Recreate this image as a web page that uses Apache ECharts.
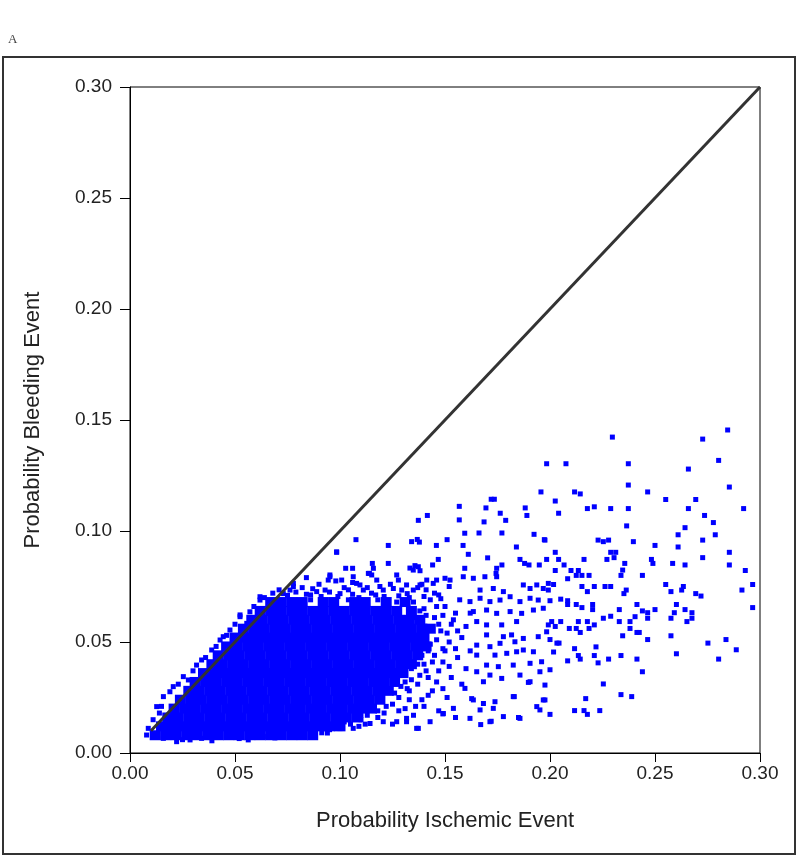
<!DOCTYPE html>
<html>
<head>
<meta charset="utf-8">
<script src="https://cdn.jsdelivr.net/npm/echarts@6/dist/echarts.min.js"></script>
<style>html,body{margin:0;padding:0;background:#fff;}#c{width:800px;height:856px;}</style>
</head>
<body>
<div id="c"></div>
<script>
const xTicks = [0, 0.05, 0.10, 0.15, 0.20, 0.25, 0.30];
const yTicks = [0, 0.05, 0.10, 0.15, 0.20, 0.25, 0.30];
const refLine = [[0.01, 0.01], [0.30, 0.30]];

// Dense core of overlapping points, read as rows: [y, [x ...]]
const denseCoreRows = [
  [0.008, [0.012,0.017,0.022,0.027,0.032,0.037,0.042,0.047,0.052,0.057,0.062,0.067,0.072,0.077,0.082,0.087]],
  [0.012, [0.015,0.020,0.025,0.030,0.035,0.040,0.045,0.050,0.055,0.060,0.065,0.070,0.075,0.080,0.085,0.090,0.095,0.100]],
  [0.016, [0.018,0.023,0.028,0.033,0.038,0.043,0.048,0.053,0.058,0.063,0.068,0.073,0.078,0.083,0.088,0.093,0.098,0.103,0.108]],
  [0.020, [0.021,0.026,0.031,0.036,0.041,0.046,0.051,0.056,0.061,0.066,0.071,0.076,0.081,0.086,0.091,0.096,0.101,0.106,0.111,0.115]],
  [0.024, [0.024,0.029,0.034,0.039,0.044,0.049,0.054,0.059,0.064,0.069,0.074,0.079,0.084,0.089,0.094,0.099,0.104,0.109,0.114,0.119]],
  [0.028, [0.028,0.033,0.038,0.043,0.048,0.053,0.058,0.063,0.068,0.073,0.078,0.083,0.088,0.093,0.098,0.103,0.108,0.113,0.118,0.123]],
  [0.032, [0.031,0.036,0.041,0.046,0.051,0.056,0.061,0.066,0.071,0.076,0.081,0.086,0.091,0.096,0.101,0.106,0.111,0.116,0.121,0.126]],
  [0.036, [0.035,0.040,0.045,0.050,0.055,0.060,0.065,0.070,0.075,0.080,0.085,0.090,0.095,0.100,0.105,0.110,0.115,0.120,0.125,0.130]],
  [0.040, [0.039,0.044,0.049,0.054,0.059,0.064,0.069,0.074,0.079,0.084,0.089,0.094,0.099,0.104,0.109,0.114,0.119,0.124,0.129,0.134]],
  [0.044, [0.042,0.047,0.052,0.057,0.062,0.067,0.072,0.077,0.082,0.087,0.092,0.097,0.102,0.107,0.112,0.117,0.122,0.127,0.132,0.137]],
  [0.048, [0.046,0.051,0.056,0.061,0.066,0.071,0.076,0.081,0.086,0.091,0.096,0.101,0.106,0.111,0.116,0.121,0.126,0.131,0.136,0.141]],
  [0.052, [0.050,0.055,0.060,0.065,0.070,0.075,0.080,0.085,0.090,0.095,0.100,0.105,0.110,0.115,0.120,0.125,0.130,0.135,0.140]],
  [0.056, [0.054,0.059,0.064,0.069,0.074,0.079,0.084,0.089,0.094,0.099,0.104,0.109,0.114,0.119,0.124,0.129,0.134,0.139,0.143]],
  [0.060, [0.058,0.063,0.068,0.073,0.078,0.083,0.088,0.093,0.098,0.103,0.108,0.113,0.118,0.123,0.128,0.133,0.138]],
  [0.064, [0.062,0.067,0.072,0.077,0.082,0.087,0.092,0.097,0.102,0.107,0.112,0.117,0.122,0.127,0.134]],
  [0.068, [0.067,0.072,0.077,0.082,0.092,0.097,0.107,0.112,0.122,0.131]]
];

// Edge of the dense cloud (above the diagonal and along the bottom and right)
const edgePoints = [
  [0.0087,0.0111],[0.0127,0.0209],[0.0159,0.0254],[0.0206,0.0299],[0.0254,0.0344],[0.0317,0.0396],[0.0389,0.0464],
  [0.0429,0.0509],[0.0476,0.0554],[0.0524,0.0614],[0.0571,0.0636],[0.0619,0.0704],[0.0667,0.0659],[0.0730,0.0718],
  [0.0778,0.0750],[0.0952,0.0794],[0.0984,0.0906],[0.0150,0.0210],[0.0190,0.0276],[0.0278,0.0329],[0.0341,0.0419],
  [0.0444,0.0524],[0.0556,0.0584],[0.0619,0.0689],[0.0524,0.0622],[0.0110,0.0150],[0.0140,0.0180],[0.0230,0.0310],
  [0.0300,0.0370],[0.0360,0.0430],[0.0410,0.0480],[0.0460,0.0530],[0.0500,0.0580],[0.0590,0.0660],[0.0640,0.0700],
  [0.0079,0.0081],[0.0111,0.0074],[0.0159,0.0066],[0.0222,0.0051],[0.0286,0.0059],[0.0341,0.0066],[0.0413,0.0074],
  [0.0476,0.0074],[0.0563,0.0059],[0.0635,0.0074],[0.0730,0.0081],[0.0825,0.0096],[0.0913,0.0091],[0.1365,0.0111],
  [0.1317,0.0156],[0.1270,0.0141],[0.1206,0.0141],[0.1143,0.0133],[0.1063,0.0111],[0.0984,0.0133],[0.0250,0.0060],
  [0.0390,0.0055],[0.0520,0.0065],[0.0690,0.0068],[0.0870,0.0088],[0.0950,0.0105],[0.1020,0.0140],[0.1100,0.0170],
  [0.1180,0.0190],[0.1090,0.0120],
  [0.068,0.0720],[0.071,0.0735],[0.075,0.0710],[0.079,0.0725],[0.084,0.0715],[0.087,0.0740],[0.091,0.0705],
  [0.095,0.0725],[0.099,0.0705],[0.102,0.0745],[0.106,0.0715],[0.109,0.0700],[0.113,0.0745],[0.117,0.0712],
  [0.121,0.0705],[0.124,0.0760],[0.128,0.0708],[0.133,0.0700],[0.137,0.0745],[0.140,0.0705],[0.143,0.0690],
  [0.148,0.0695],[0.086,0.0690],[0.104,0.0690],[0.118,0.0690],[0.127,0.0680],[0.090,0.0760],[0.098,0.0775],
  [0.106,0.0768],[0.084,0.0790],[0.070,0.0690],[0.080,0.0680],
  [0.146,0.066],[0.149,0.062],[0.147,0.058],[0.151,0.054],[0.146,0.051],[0.149,0.047],[0.145,0.044],[0.142,0.046],
  [0.144,0.041],[0.139,0.044],[0.141,0.037],[0.137,0.040],[0.138,0.035],[0.134,0.033],[0.131,0.032],[0.133,0.028],
  [0.129,0.030],[0.128,0.025],[0.124,0.028],[0.125,0.022],[0.120,0.024],[0.121,0.018],[0.116,0.020],[0.113,0.017],
  [0.110,0.015],[0.105,0.013],[0.100,0.011],[0.094,0.009],[0.154,0.060],[0.156,0.055],[0.152,0.050],[0.155,0.047],
  [0.149,0.041],[0.152,0.039],[0.146,0.032],[0.149,0.029],[0.142,0.026],[0.139,0.024],[0.136,0.021],[0.131,0.020],
  [0.141,0.062],[0.138,0.064],[0.143,0.056],[0.136,0.061]
];

// Points just above the top of the cloud
const topPoints = [
  [0.1270,0.0802],[0.1278,0.0779],[0.1135,0.0809],[0.1151,0.0802],[0.0952,0.0802],[0.0944,0.0779],[0.1008,0.0779],
  [0.1063,0.0794],[0.1079,0.0764],[0.1413,0.0779],[0.1444,0.0764],[0.0778,0.0764],[0.0762,0.0734],[0.0889,0.0727],
  [0.0929,0.0734],[0.1000,0.0718],[0.1095,0.0757],[0.1111,0.0734],[0.1175,0.0779],[0.1190,0.0750],[0.1206,0.0734],
  [0.1254,0.0741],[0.1294,0.0734],[0.1317,0.0757],[0.1349,0.0734],[0.1381,0.0757],[0.0820,0.0745],[0.0860,0.0712],
  [0.1040,0.0735],[0.1150,0.0720],[0.1320,0.0718],[0.1410,0.0735],[0.1470,0.0712]
];

// Medium-density zone to the right of the cloud
const midPoints = [
  [0.1460,0.0779],[0.1500,0.0787],[0.1524,0.0779],[0.1587,0.0794],[0.1635,0.0787],[0.1690,0.0794],[0.1746,0.0794],
  [0.1873,0.0757],[0.1905,0.0741],[0.1937,0.0757],[0.1968,0.0741],[0.1992,0.0764],[0.1667,0.0734],[0.1730,0.0741],
  [0.1778,0.0727],[0.1619,0.0682],[0.1667,0.0697],[0.1714,0.0682],[0.1762,0.0689],[0.1810,0.0704],[0.1857,0.0682],
  [0.1905,0.0697],[0.1944,0.0689],[0.1968,0.0652],[0.1921,0.0644],[0.1865,0.0629],[0.1635,0.0637],[0.1698,0.0644],
  [0.1746,0.0629],[0.1810,0.0637],[0.1651,0.0592],[0.1698,0.0577],[0.1770,0.0577],[0.1841,0.0592],[0.1698,0.0532],
  [0.1778,0.0524],[0.1817,0.0532],[0.1873,0.0516],[0.1944,0.0524],[0.1984,0.0546],[0.1651,0.0486],[0.1714,0.0479],
  [0.1762,0.0494],[0.1833,0.0501],[0.1651,0.0441],[0.1738,0.0441],[0.1794,0.0449],[0.1841,0.0456],[0.1873,0.0464],
  [0.1921,0.0456],[0.1960,0.0411],[0.1698,0.0396],[0.1754,0.0389],[0.1825,0.0396],[0.1905,0.0404],[0.1651,0.0366],
  [0.1714,0.0351],[0.1770,0.0336],[0.1857,0.0351],[0.1952,0.0366],[0.1595,0.0291],[0.1683,0.0321],[0.1905,0.0321],
  [0.1627,0.0245],[0.1683,0.0223],[0.1738,0.0231],[0.1825,0.0254],[0.1968,0.0239],[0.1937,0.0209],[0.1619,0.0156],
  [0.1714,0.0141],[0.1778,0.0164],[0.1857,0.0156],[0.1952,0.0194],[0.1667,0.0194],[0.1730,0.0201],[0.1373,0.0111],
  [0.1429,0.0141],[0.1492,0.0178],[0.1540,0.0201],[0.1317,0.0141],[0.1670,0.0128],[0.1720,0.0143],[0.1850,0.0160],
  [0.1830,0.0254],[0.1490,0.0176],[0.1635,0.0239],[0.1897,0.0318],
  [0.135,0.068],[0.140,0.065],[0.145,0.061],[0.150,0.066],[0.155,0.063],[0.138,0.058],[0.148,0.055],[0.153,0.058],
  [0.158,0.052],[0.143,0.049],[0.150,0.046],[0.156,0.043],[0.140,0.040],[0.147,0.037],[0.153,0.034],[0.160,0.038],
  [0.137,0.031],[0.144,0.028],[0.151,0.025],[0.158,0.031],[0.133,0.024],[0.140,0.021],[0.147,0.019],[0.155,0.016],
  [0.128,0.019],[0.135,0.017],[0.162,0.046],[0.160,0.057],[0.157,0.069],[0.145,0.072],[0.152,0.075],[0.139,0.076],
  [0.162,0.063],[0.131,0.045],[0.136,0.050],[0.142,0.034],[0.129,0.036],[0.134,0.038],[0.126,0.027],[0.132,0.029],
  [0.122,0.021],[0.118,0.016],[0.112,0.013],[0.125,0.013]
];

// Sparse outlying points
const sparsePoints = [
  [0.1984,0.1303],[0.1957,0.1176],[0.1720,0.1143],[0.1735,0.1143],[0.1568,0.1111],[0.1695,0.1104],[0.1882,0.1104],
  [0.1416,0.1070],[0.1373,0.1048],[0.1568,0.1050],[0.1686,0.1041],[0.1763,0.1080],[0.1789,0.1048],[0.1890,0.1070],
  [0.1594,0.0990],[0.1662,0.0991],[0.1771,0.0991],[0.1924,0.0985],[0.1076,0.0961],[0.1230,0.0935],[0.1341,0.0952],
  [0.1368,0.0962],[0.1378,0.0950],[0.1459,0.0935],[0.1510,0.0961],[0.1586,0.0935],[0.1611,0.0895],[0.1703,0.0879],
  [0.1840,0.0928],[0.1973,0.0961],[0.0984,0.0904],[0.1027,0.0832],[0.1060,0.0832],[0.1154,0.0854],[0.1159,0.0832],
  [0.1140,0.0809],[0.1230,0.0854],[0.1333,0.0833],[0.1357,0.0844],[0.1373,0.0839],[0.1349,0.0824],[0.1381,0.0821],
  [0.1441,0.0847],[0.1468,0.0872],[0.1594,0.0832],[0.1746,0.0832],[0.1771,0.0847],[0.1743,0.0809],[0.1857,0.0872],
  [0.1879,0.0854],[0.1900,0.0847],[0.1949,0.0847],[0.1984,0.0872],
  [0.2297,0.1423],[0.2727,0.1414],[0.2846,0.1455],[0.2076,0.1303],[0.2373,0.1303],[0.2659,0.1279],[0.2803,0.1318],
  [0.2373,0.1207],[0.2854,0.1198],[0.2117,0.1176],[0.2144,0.1167],[0.2465,0.1176],[0.2025,0.1135],[0.2551,0.1142],
  [0.2694,0.1142],[0.2041,0.1080],[0.2178,0.1101],[0.2211,0.1109],[0.2289,0.1101],[0.2373,0.1101],[0.2659,0.1101],
  [0.2922,0.1101],[0.2736,0.1070],[0.2778,0.1038],[0.2365,0.1023],[0.2643,0.1015],[0.2610,0.0983],[0.2787,0.0983],
  [0.1976,0.0959],[0.2229,0.0959],[0.2254,0.0952],[0.2279,0.0959],[0.2397,0.0952],[0.2500,0.0935],[0.2610,0.0928],
  [0.2727,0.0959],[0.2025,0.0904],[0.2289,0.0904],[0.2313,0.0904],[0.2305,0.0880],[0.2854,0.0904],[0.2041,0.0872],
  [0.2067,0.0847],[0.2162,0.0872],[0.2271,0.0872],[0.2356,0.0854],[0.2346,0.0824],[0.2338,0.0800],[0.2483,0.0872],
  [0.2490,0.0854],[0.2584,0.0854],[0.2643,0.0847],[0.2727,0.0880],[0.2854,0.0847],[0.2930,0.0822],[0.2025,0.0822],
  [0.2100,0.0822],[0.2135,0.0822],[0.2125,0.0800],[0.2152,0.0800],[0.2186,0.0800],[0.2440,0.0800],[0.2084,0.0785],
  [0.1992,0.0734],[0.2017,0.0759],[0.2152,0.0750],[0.2178,0.0727],[0.2211,0.0750],[0.2262,0.0750],[0.2289,0.0750],
  [0.2352,0.0718],[0.2363,0.0734],[0.2551,0.0759],[0.2576,0.0727],[0.2627,0.0734],[0.2635,0.0750],[0.2694,0.0718],
  [0.2719,0.0707],[0.2914,0.0734],[0.2965,0.0759],[0.2000,0.0686],[0.2051,0.0693],[0.2084,0.0686],[0.2084,0.0669],
  [0.2125,0.0669],[0.2152,0.0655],[0.2203,0.0669],[0.2203,0.0646],[0.2330,0.0646],[0.2414,0.0669],[0.2440,0.0640],
  [0.2465,0.0632],[0.2465,0.0607],[0.2500,0.0646],[0.2602,0.0669],[0.2592,0.0632],[0.2576,0.0607],[0.2643,0.0646],
  [0.2676,0.0632],[0.2676,0.0607],[0.2652,0.0592],[0.2965,0.0655],[0.2008,0.0592],[0.1992,0.0577],[0.2025,0.0570],
  [0.2051,0.0592],[0.2092,0.0561],[0.2125,0.0561],[0.2144,0.0543],[0.2135,0.0592],[0.2178,0.0592],[0.2186,0.0561],
  [0.2211,0.0577],[0.2254,0.0607],[0.2289,0.0616],[0.2330,0.0592],[0.2381,0.0592],[0.2381,0.0561],[0.2405,0.0614],
  [0.2414,0.0543],[0.2425,0.0543],[0.2346,0.0528],[0.2465,0.0511],[0.2576,0.0528],[0.2000,0.0511],[0.2033,0.0495],
  [0.2043,0.0495],[0.2752,0.0495],[0.2838,0.0511],[0.2887,0.0465],[0.2803,0.0423],[0.2602,0.0447],[0.2117,0.0470],
  [0.2135,0.0439],[0.2144,0.0423],[0.2219,0.0478],[0.2211,0.0439],[0.2229,0.0406],[0.2279,0.0423],[0.2338,0.0439],
  [0.2414,0.0423],[0.2017,0.0455],[0.2084,0.0415],[0.2000,0.0375],[0.2440,0.0366],[0.2254,0.0311],[0.2338,0.0263],
  [0.2389,0.0254],[0.2170,0.0245],[0.1976,0.0239],[0.1976,0.0306],[0.2000,0.0174],[0.2117,0.0191],[0.2162,0.0191],
  [0.2178,0.0174],[0.2237,0.0191]
];

const corePoints = [];
denseCoreRows.forEach(function (row) {
  row[1].forEach(function (x) { corePoints.push([x, row[0]]); });
});
const smallPoints = edgePoints.concat(topPoints, midPoints, sparsePoints);

const chart = echarts.init(document.getElementById('c'), null, { renderer: 'canvas' });
const fontFam = 'Liberation Sans, Arial, sans-serif';
chart.setOption({
  animation: false,
  backgroundColor: '#fff',
  graphic: [
    { type: 'rect', shape: { x: 3, y: 57, width: 792, height: 797 },
      style: { fill: 'none', stroke: '#333', lineWidth: 2 }, z: 0 },
    { type: 'text', left: 8, top: 33,
      style: { text: 'A', font: '13px "Liberation Serif", serif', fill: '#444' } }
  ],
  grid: { left: 130, top: 87, width: 630, height: 666, show: true, borderColor: '#000', borderWidth: 1, backgroundColor: 'transparent' },
  xAxis: {
    type: 'value', min: 0, max: 0.3, interval: 0.05,
    name: 'Probability Ischemic Event', nameLocation: 'middle', nameGap: 57,
    nameTextStyle: { fontFamily: fontFam, fontSize: 22, color: '#222' },
    axisLine: { show: true, lineStyle: { color: '#000', width: 1 } },
    axisTick: { show: true, length: 9, lineStyle: { color: '#000' } },
    axisLabel: { margin: 11, fontFamily: fontFam, fontSize: 19, color: '#222',
      formatter: function (v) { return v.toFixed(2); } },
    splitLine: { show: false }
  },
  yAxis: {
    type: 'value', min: 0, max: 0.3, interval: 0.05,
    name: 'Probability Bleeding Event', nameLocation: 'middle', nameGap: 86, nameRotate: 90,
    nameTextStyle: { fontFamily: fontFam, fontSize: 22, color: '#222' },
    axisLine: { show: true, lineStyle: { color: '#000', width: 1 } },
    axisTick: { show: true, length: 10, lineStyle: { color: '#000' } },
    axisLabel: { margin: 18, fontFamily: fontFam, fontSize: 19, color: '#222',
      formatter: function (v) { return v.toFixed(2); } },
    splitLine: { show: false }
  },
  series: [
    { type: 'scatter', data: corePoints, symbol: 'rect', symbolSize: [11, 10],
      itemStyle: { color: '#0000ff', opacity: 1 }, silent: true, z: 2 },
    { type: 'scatter', data: smallPoints, symbol: 'rect', symbolSize: 5,
      itemStyle: { color: '#0000ff', opacity: 1 }, silent: true, z: 3 },
    { type: 'line', data: refLine, symbol: 'none', lineStyle: { color: '#333', width: 3 }, z: 5, silent: true }
  ]
});
</script>
</body>
</html>
